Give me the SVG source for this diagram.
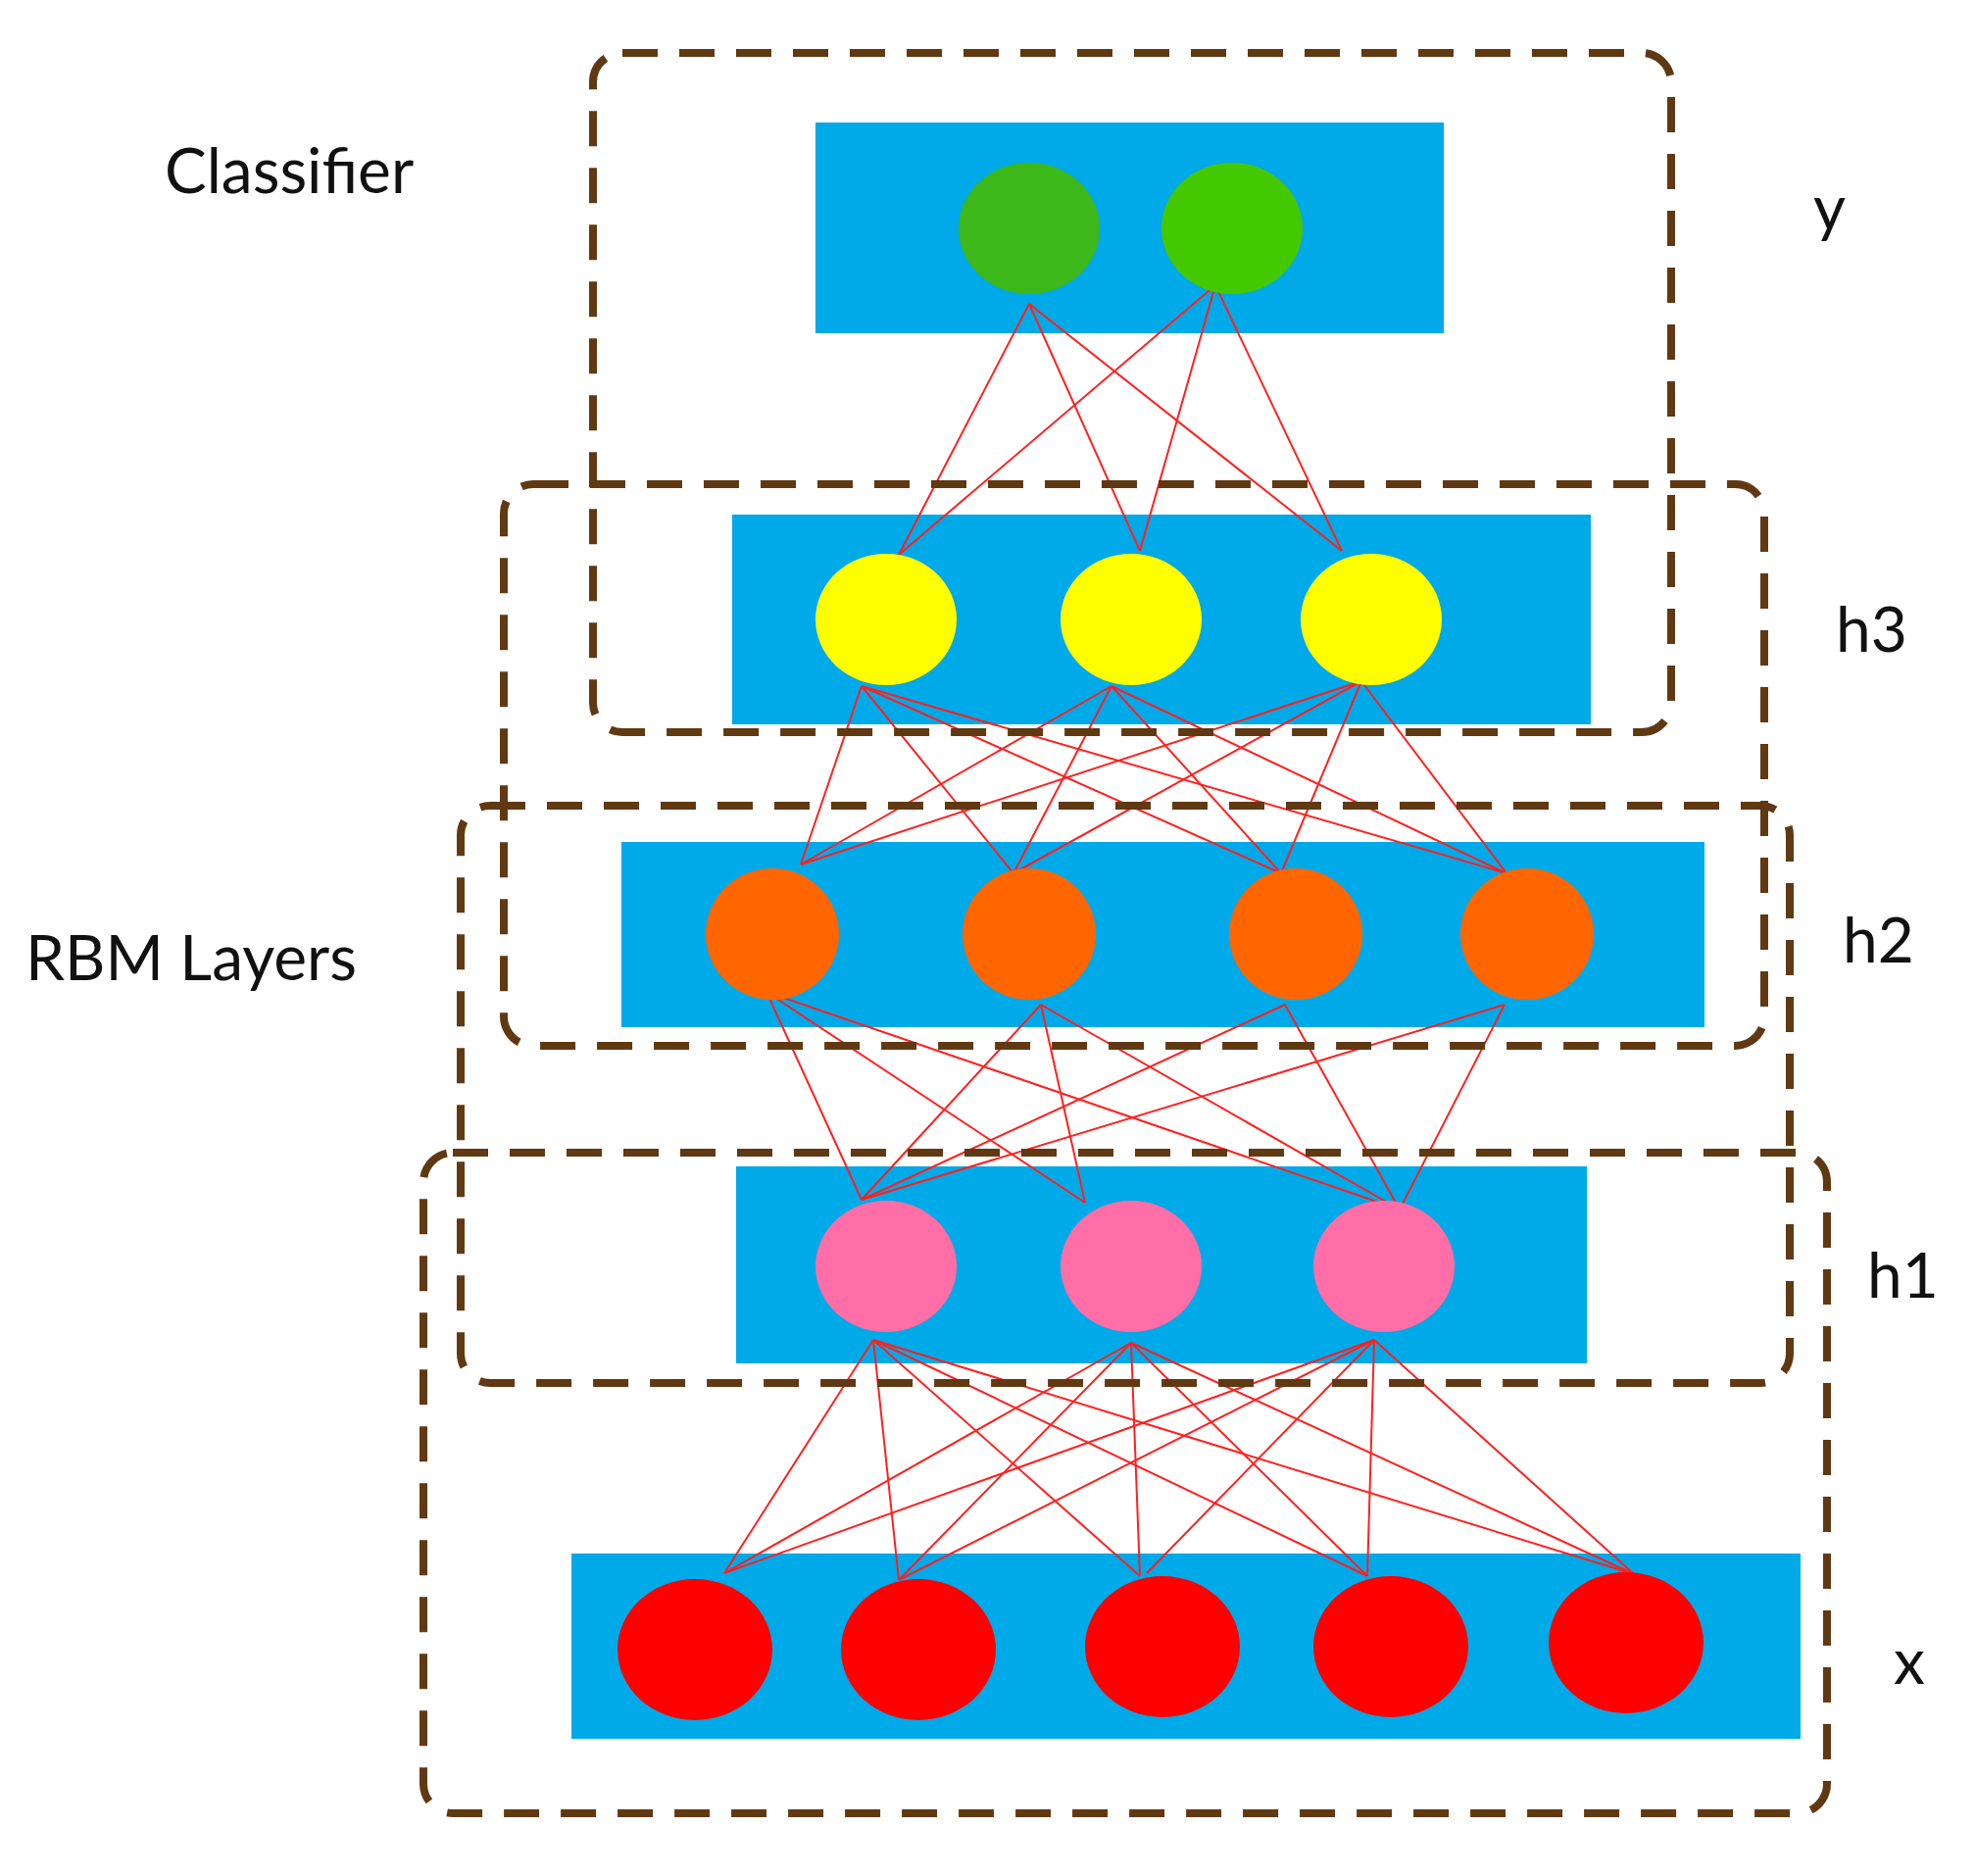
<svg xmlns="http://www.w3.org/2000/svg" width="2015" height="1914" viewBox="0 0 2015 1914">
<style>
.box{fill:none;stroke:#603913;stroke-width:8;stroke-dasharray:36 22}
.band{fill:#00a9e8}
.e line{stroke:#ff2020;stroke-width:2}
.t{font-family:Lato,"Open Sans",sans-serif;font-size:64px;fill:#111}
</style>
<rect width="2015" height="1914" fill="#fff"/>
<g id="bands">
<rect class="band" x="832" y="125" width="641" height="215"/>
<rect class="band" x="747" y="525" width="876" height="214"/>
<rect class="band" x="634" y="859" width="1105" height="189"/>
<rect class="band" x="751" y="1190" width="868" height="201"/>
<rect class="band" x="583" y="1585" width="1254" height="189"/>
</g>
<g id="connectors" class="e">
<line x1="1050" y1="310" x2="917" y2="566"/><line x1="1050" y1="310" x2="1163" y2="562"/><line x1="1050" y1="310" x2="1369" y2="562"/>
<line x1="1240" y1="291" x2="917" y2="566"/><line x1="1240" y1="291" x2="1163" y2="562"/><line x1="1240" y1="291" x2="1369" y2="562"/>
<line x1="879" y1="700" x2="817" y2="882"/><line x1="879" y1="700" x2="1034" y2="891"/><line x1="879" y1="700" x2="1307" y2="891"/><line x1="879" y1="700" x2="1537" y2="891"/>
<line x1="1134" y1="700" x2="817" y2="882"/><line x1="1134" y1="700" x2="1034" y2="891"/><line x1="1134" y1="700" x2="1307" y2="891"/><line x1="1134" y1="700" x2="1537" y2="891"/>
<line x1="1389" y1="695" x2="817" y2="882"/><line x1="1389" y1="695" x2="1034" y2="891"/><line x1="1389" y1="695" x2="1307" y2="891"/><line x1="1389" y1="695" x2="1537" y2="891"/>
<line x1="782" y1="1012" x2="879" y2="1224"/><line x1="782" y1="1012" x2="1107" y2="1227"/><line x1="782" y1="1012" x2="1428" y2="1234"/>
<line x1="1062" y1="1025" x2="879" y2="1224"/><line x1="1062" y1="1025" x2="1107" y2="1227"/><line x1="1062" y1="1025" x2="1428" y2="1234"/>
<line x1="1311" y1="1025" x2="879" y2="1224"/><line x1="1311" y1="1025" x2="1428" y2="1234"/>
<line x1="1535" y1="1025" x2="879" y2="1224"/><line x1="1535" y1="1025" x2="1428" y2="1234"/>
<line x1="891" y1="1367" x2="739" y2="1605"/><line x1="891" y1="1367" x2="917" y2="1612"/><line x1="891" y1="1367" x2="1163" y2="1608"/><line x1="891" y1="1367" x2="1395" y2="1608"/><line x1="891" y1="1367" x2="1667" y2="1606"/>
<line x1="1154" y1="1370" x2="739" y2="1605"/><line x1="1154" y1="1370" x2="917" y2="1612"/><line x1="1154" y1="1370" x2="1163" y2="1608"/><line x1="1154" y1="1370" x2="1395" y2="1608"/><line x1="1154" y1="1370" x2="1667" y2="1606"/>
<line x1="1402" y1="1367" x2="739" y2="1605"/><line x1="1402" y1="1367" x2="917" y2="1612"/><line x1="1402" y1="1367" x2="1170" y2="1605"/><line x1="1402" y1="1367" x2="1395" y2="1608"/><line x1="1402" y1="1367" x2="1667" y2="1606"/>
</g>
<g id="y"><ellipse cx="1050" cy="233" rx="72" ry="67" fill="#3cb81a"/><ellipse cx="1257" cy="233" rx="72" ry="67" fill="#44c800"/></g>
<g id="h3" fill="#ffff00"><ellipse cx="904" cy="632" rx="72" ry="67"/><ellipse cx="1154" cy="632" rx="72" ry="67"/><ellipse cx="1399" cy="632" rx="72" ry="67"/></g>
<g id="h2" fill="#ff6600"><ellipse cx="788" cy="953" rx="68" ry="67"/><ellipse cx="1050" cy="953" rx="68" ry="67"/><ellipse cx="1322" cy="953" rx="68" ry="67"/><ellipse cx="1558" cy="953" rx="68" ry="67"/></g>
<g id="h1" fill="#ff6ea6"><ellipse cx="904" cy="1292" rx="72" ry="67"/><ellipse cx="1154" cy="1292" rx="72" ry="67"/><ellipse cx="1412" cy="1292" rx="72" ry="67"/></g>
<g id="x" fill="#ff0000"><ellipse cx="709" cy="1683" rx="79" ry="72"/><ellipse cx="937" cy="1683" rx="79" ry="72"/><ellipse cx="1186" cy="1680" rx="79" ry="72"/><ellipse cx="1419" cy="1680" rx="79" ry="72"/><ellipse cx="1659" cy="1676" rx="79" ry="72"/></g>
<g id="boxes">
<rect class="box" x="605" y="54" width="1100" height="693" rx="30"/>
<rect class="box" x="514" y="494" width="1286" height="573" rx="30"/>
<rect class="box" x="470" y="822" width="1356" height="589" rx="30"/>
<rect class="box" x="432" y="1176" width="1432" height="674" rx="30"/>
</g>
<g id="labels">
<text class="t" x="168" y="197">Classifier</text>
<text class="t" x="26" y="1000">RBM Layers</text>
<text class="t" x="1850" y="235">y</text>
<text class="t" x="1873" y="665">h3</text>
<text class="t" x="1880" y="982">h2</text>
<text class="t" x="1905" y="1324">h1</text>
<text class="t" x="1932" y="1718">x</text>
</g>
</svg>
